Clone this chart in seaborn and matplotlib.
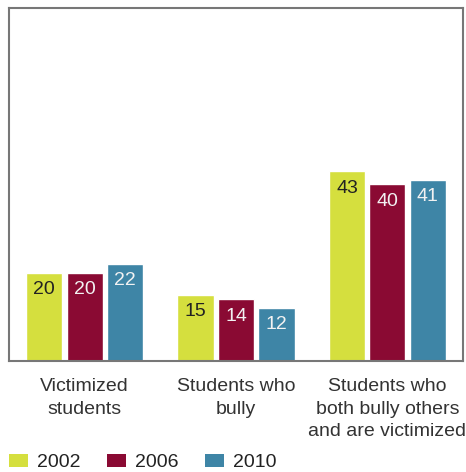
import matplotlib
matplotlib.use("Agg")
import matplotlib.pyplot as plt
import seaborn as sns
import pandas as pd
from matplotlib.patches import Patch

categories = ["Victimized\nstudents", "Students who\nbully", "Students who\nboth bully others\nand are victimized"]
years = ["2002", "2006", "2010"]
values_2002 = [20, 15, 43]
values_2006 = [20, 14, 40]
values_2010 = [22, 12, 41]
colors = ["#d5df3e", "#8a0a33", "#3e85a6"]
text_colors = ["#222222", "#f2f2f2", "#f2f2f2"]

rows = []
for yr, vals in zip(years, [values_2002, values_2006, values_2010]):
    for c, v in zip(categories, vals):
        rows.append({"category": c, "year": yr, "value": v})
df = pd.DataFrame(rows)

sns.set_theme(style="white")
plt.rcParams['font.family'] = ['Liberation Sans', 'DejaVu Sans']

fig = plt.figure(figsize=(4.66, 4.72), dpi=100)
ax = fig.add_axes([9/466, 1 - 361/472, (463-9)/466, (361-8)/472])
sns.barplot(data=df, x="category", y="value", hue="year", palette=colors,
            hue_order=years, order=categories, gap=0.1, saturation=1,
            ax=ax, legend=False, errorbar=None)
ax.set_ylim(0, 80)
ax.set_xlim(-0.5, 2.5)
ax.set_xlabel("")
ax.set_ylabel("")
ax.set_yticks([])
ax.tick_params(axis="x", length=0, pad=12, labelsize=14, labelcolor="#333333")
for lab in ax.get_xticklabels():
    lab.set_linespacing(1.45)
for s in ax.spines.values():
    s.set_color("#777777")
    s.set_linewidth(1.5)

for cont, tc in zip(ax.containers, text_colors):
    for p in cont.patches:
        h = p.get_height()
        ax.annotate(f"{h:.0f}", (p.get_x() + p.get_width()/2, h),
                    xytext=(0, -6), textcoords="offset points",
                    ha="center", va="top", fontsize=14, color=tc)

handles = [Patch(facecolor=c, edgecolor="none") for c in colors]
fig.legend(handles, years, loc="lower left", bbox_to_anchor=(9/466, 1/472), ncol=3,
           frameon=False, fontsize=14, handlelength=1.0, handleheight=0.67,
           handletextpad=0.45, columnspacing=1.35, labelcolor="#222222",
           borderpad=0, borderaxespad=0)

fig.savefig("out.png", dpi=100, facecolor="white")
